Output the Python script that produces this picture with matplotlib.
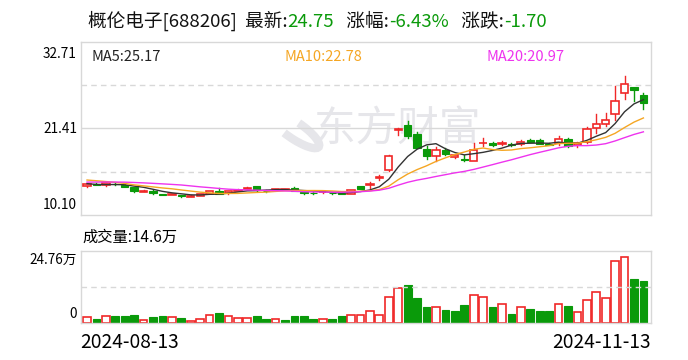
import matplotlib
matplotlib.use('Agg')
import matplotlib.pyplot as plt
from matplotlib.patches import Arc
import numpy as np

plt.rcParams['font.family'] = ['Noto Sans CJK SC', 'DejaVu Sans']

# 日K数据（2024-08-13 ~ 2024-11-13，60个交易日）
opens = [13.85, 14.20, 14.00, 14.20, 14.05, 13.75, 13.15, 13.30, 12.85, 12.70,
         12.65, 12.48, 12.58, 12.90, 13.20, 12.95, 13.30, 13.50, 13.85, 13.30,
         13.40, 13.42, 13.65, 13.05, 13.02, 13.05, 12.97, 12.95, 12.88, 13.90,
         14.05, 14.95, 16.00, 21.25, 21.85, 20.70, 18.70, 17.75, 18.60, 17.64,
         17.42, 17.20, 19.45, 19.45, 19.42, 19.42, 19.35, 19.90, 19.90, 19.42,
         19.50, 20.00, 19.20, 19.70, 21.45, 22.00, 23.25, 26.00, 26.80, 25.80]
closes = [14.10, 14.05, 14.25, 14.10, 13.75, 13.22, 13.28, 12.95, 12.75, 12.78,
          12.58, 12.60, 12.85, 13.20, 12.90, 13.20, 13.40, 13.58, 13.35, 13.25,
          13.47, 13.45, 13.30, 13.00, 12.97, 13.10, 12.92, 12.88, 13.36, 13.55,
          14.15, 15.02, 17.80, 21.35, 20.40, 18.90, 17.85, 18.60, 18.05, 17.94,
          17.35, 18.60, 19.50, 19.30, 19.45, 19.30, 19.70, 19.65, 19.40, 19.30,
          20.05, 19.10, 19.50, 21.30, 22.00, 22.45, 25.00, 27.20, 26.45, 24.75]
highs = [14.15, 14.25, 14.35, 14.25, 14.10, 13.80, 13.35, 13.35, 12.90, 12.85,
         12.70, 12.65, 12.90, 13.25, 13.60, 13.25, 13.50, 13.70, 13.95, 13.35,
         13.55, 13.55, 13.70, 13.10, 13.10, 13.20, 13.00, 13.00, 13.40, 13.95,
         14.40, 15.30, 17.90, 21.50, 22.40, 21.00, 19.10, 18.95, 18.90, 18.00,
         17.90, 19.45, 20.10, 19.60, 19.80, 19.55, 19.90, 20.00, 20.05, 19.50,
         20.40, 20.10, 19.60, 21.65, 23.30, 23.40, 26.95, 28.30, 26.85, 26.10]
lows = [13.70, 14.00, 13.95, 14.05, 13.70, 13.15, 13.10, 12.90, 12.65, 12.65,
        12.50, 12.45, 12.52, 12.85, 12.85, 12.90, 13.25, 13.45, 13.30, 13.15,
        13.35, 13.35, 13.25, 12.85, 12.90, 13.00, 12.85, 12.80, 12.84, 13.50,
        13.60, 14.70, 15.90, 20.60, 20.10, 18.85, 17.40, 17.20, 18.00, 17.55,
        17.10, 17.15, 19.10, 19.15, 19.25, 19.15, 19.30, 19.60, 19.35, 19.20,
        19.20, 19.05, 19.05, 19.50, 20.85, 21.75, 22.50, 25.20, 25.05, 23.95]
# 成交量（万手）
volumes = [2.30, 1.38, 2.65, 2.41, 2.41, 2.75, 1.03, 2.06, 2.41, 2.30,
           1.72, 0.93, 1.62, 2.99, 3.44, 2.65, 1.96, 1.96, 2.41, 1.38,
           1.62, 1.03, 2.41, 2.41, 1.38, 1.62, 1.38, 2.41, 2.99, 2.99,
           4.37, 2.86, 9.05, 12.14, 13.31, 8.84, 5.74, 5.61, 4.71, 4.37,
           6.43, 9.74, 9.05, 5.74, 6.64, 3.34, 5.61, 5.06, 4.37, 4.37,
           6.64, 6.09, 3.89, 8.02, 10.77, 8.70, 21.43, 22.81, 15.20, 14.60]
# 8月13日之前的收盘价（估计，只用于均线起算）
prior_closes = [14.0, 14.1, 14.2, 14.0, 14.1, 14.3, 14.2, 14.1, 14.2, 14.1,
                15.0, 15.3, 15.2, 15.1, 15.1, 14.6, 14.3, 14.1, 13.9]

first_date = '2024-08-13'
last_date = '2024-11-13'
price_ticks = [10.10, 21.41, 32.71]
vol_top = 24.76

RED = '#f02828'
GREEN = '#0a9a0a'
GRID = '#d8d8d8'

n = len(closes)
x = np.arange(n)
all_closes = np.array(prior_closes + closes)


def moving_avg(k):
    p = len(prior_closes)
    return np.array([all_closes[p + i - k + 1:p + i + 1].mean() for i in range(n)])


ma5, ma10, ma20 = moving_avg(5), moving_avg(10), moving_avg(20)

fig = plt.figure(figsize=(6.88, 3.6), dpi=100)
ax = fig.add_axes([0.1173, 0.4028, 0.829, 0.4806])
axv = fig.add_axes([0.1173, 0.1019, 0.829, 0.2])

for a in (ax, axv):
    for s in a.spines.values():
        s.set_color(GRID)
        s.set_linewidth(1)
    a.set_xticks([])
    a.set_yticks([])
    a.set_xlim(-0.67, n - 1 + 0.81)

ax.set_ylim(price_ticks[0], price_ticks[-1])
span = price_ticks[-1] - price_ticks[0]
ax.axhline(price_ticks[0] + span * 0.25, color=GRID, ls=(0, (4, 3)), lw=1)
ax.axhline(price_ticks[1], color=GRID, lw=1)
ax.axhline(price_ticks[0] + span * 0.75, color=GRID, ls=(0, (4, 3)), lw=1)

# 水印
ax.text(0.555, 0.49, '东方财富', transform=ax.transAxes, fontsize=30,
        color='#e6e6ea', ha='center', va='center', zorder=0)
ax.add_patch(Arc((0.375, 0.49), 0.045, 0.22, angle=20, theta1=200, theta2=60,
                 transform=ax.transAxes, color='#e6e6ea', lw=6, zorder=0))

w = 0.78
for i in range(n):
    o, c, h, l = opens[i], closes[i], highs[i], lows[i]
    up = c >= o
    col = RED if up else GREEN
    top, bot = max(o, c), min(o, c)
    ax.plot([i, i], [top, h], color=col, lw=1, zorder=2)
    ax.plot([i, i], [l, bot], color=col, lw=1, zorder=2)
    body = max(top - bot, 0.03)
    if up:
        ax.add_patch(plt.Rectangle((i - w / 2, bot), w, body, facecolor='white',
                                   edgecolor=col, lw=1.2, zorder=3))
    else:
        ax.add_patch(plt.Rectangle((i - w / 2, bot), w, body, facecolor=col,
                                   edgecolor=col, lw=0.8, zorder=3))

ax.plot(x, ma5, color='#333333', lw=1, zorder=4)
ax.plot(x, ma10, color='#f5a623', lw=1, zorder=4)
ax.plot(x, ma20, color='#ee33ee', lw=1, zorder=4)

# 成交量：颜色按与前一日收盘比较
prev = [closes[0] - 1] + closes[:-1]
for i in range(n):
    if closes[i] >= prev[i]:
        axv.add_patch(plt.Rectangle((i - 0.41, 0), 0.82, volumes[i], facecolor='white',
                                    edgecolor=RED, lw=1.2))
    else:
        axv.add_patch(plt.Rectangle((i - 0.41, 0), 0.82, volumes[i], facecolor=GREEN,
                                    edgecolor=GREEN, lw=0.8))
axv.set_ylim(0, vol_top)
axv.axhline(vol_top / 2, color=GRID, ls=(0, (4, 3)), lw=1)

# 文字
fs = 9.8
fig.text(77 / 688, 1 - 47 / 360, f'{price_ticks[2]:.2f}', ha='right', va='top', fontsize=fs)
fig.text(77 / 688, 1 - 129 / 360, f'{price_ticks[1]:.2f}', ha='right', va='center', fontsize=fs)
fig.text(77 / 688, 1 - 212 / 360, f'{price_ticks[0]:.2f}', ha='right', va='bottom', fontsize=fs)
fig.text(77 / 688, 1 - 253 / 360, f'{vol_top:.2f}万', ha='right', va='top', fontsize=fs)
fig.text(77 / 688, 1 - 321 / 360, '0', ha='right', va='bottom', fontsize=fs)

fig.text(91 / 688, 1 - 57 / 360, f'MA5:{ma5[-1]:.2f}', color='#222222', va='center', fontsize=10.5)
fig.text(284 / 688, 1 - 57 / 360, f'MA10:{ma10[-1]:.2f}', color='#f5a623', va='center', fontsize=10.5)
fig.text(487 / 688, 1 - 57 / 360, f'MA20:{ma20[-1]:.2f}', color='#ee33ee', va='center', fontsize=10.5)

fig.text(82 / 688, 1 - 237 / 360, f'成交量:{volumes[-1]:.1f}万', va='center', fontsize=11)
fig.text(80 / 688, 1 - 343 / 360, first_date, va='center', fontsize=13.8)
fig.text(651 / 688, 1 - 343 / 360, last_date, va='center', ha='right', fontsize=13.8)

chg = closes[-1] - closes[-2]
pct = chg / closes[-2] * 100
parts = [('概伦电子[688206]  最新:', '#111111'), (f'{closes[-1]:.2f}', GREEN),
         ('   涨幅:', '#111111'), (f'{pct:.2f}%', GREEN),
         ('   涨跌:', '#111111'), (f'{chg:.2f}', GREEN)]
t = fig.text(88 / 688, 1 - 21 / 360, parts[0][0], color=parts[0][1], fontsize=13.4, va='center')
for s, c in parts[1:]:
    t = ax.annotate(s, xy=(1, 0), xycoords=t, va='bottom', ha='left', color=c,
                    fontsize=13.4, annotation_clip=False)

fig.savefig('out.png', dpi=100)
